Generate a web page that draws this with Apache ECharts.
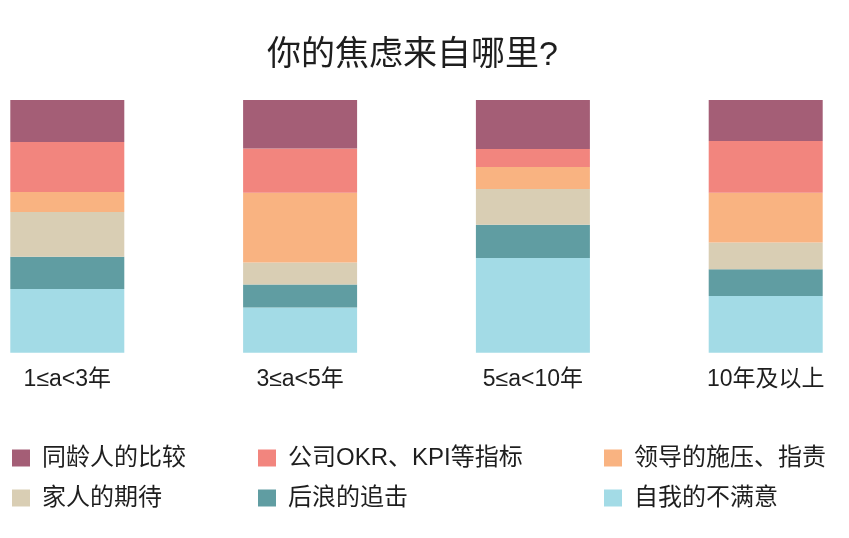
<!DOCTYPE html>
<html>
<head>
<meta charset="utf-8">
<script src="https://cdn.jsdelivr.net/npm/echarts@6/dist/echarts.min.js"></script>
<style>html,body{margin:0;padding:0;background:#fff}#c{width:849px;height:538px}</style>
</head>
<body>
<div id="c"></div>
<script>
const categories = ['1≤a<3年', '3≤a<5年', '5≤a<10年', '10年及以上'];
const peerComparison = [16.6, 19.2, 19.4, 16.2];
const companyKPI = [19.8, 17.5, 7.1, 20.5];
const leaderPressure = [7.9, 27.6, 8.7, 19.7];
const familyExpect = [17.7, 8.7, 14.2, 10.6];
const juniorChase = [12.8, 9.1, 13.1, 10.6];
const selfDissatisfied = [25.2, 17.9, 37.5, 22.4];

const names = ['同龄人的比较', '公司OKR、KPI等指标', '领导的施压、指责', '家人的期待', '后浪的追击', '自我的不满意'];
const colors = {
  '同龄人的比较': '#a45e76',
  '公司OKR、KPI等指标': '#f2857e',
  '领导的施压、指责': '#f9b381',
  '家人的期待': '#d9ceb4',
  '后浪的追击': '#609da2',
  '自我的不满意': '#a3dbe6'
};
const seriesData = [
  ['自我的不满意', selfDissatisfied],
  ['后浪的追击', juniorChase],
  ['家人的期待', familyExpect],
  ['领导的施压、指责', leaderPressure],
  ['公司OKR、KPI等指标', companyKPI],
  ['同龄人的比较', peerComparison]
];
const font = '"Liberation Sans", "Noto Sans CJK SC", sans-serif';
const legendBase = {
  orient: 'vertical', top: 446, padding: 0, itemWidth: 18, itemHeight: 17, itemGap: 16,
  icon: 'rect',
  textStyle: { fontSize: 24, color: '#1e1e1e', fontFamily: font, padding: [0, 0, 0, 7] }
};
const chart = echarts.init(document.getElementById('c'));
chart.setOption({
  animation: false,
  color: seriesData.map(s => colors[s[0]]),
  title: {
    text: '你的焦虑来自哪里?', left: 262, top: 34,
    textStyle: { fontSize: 34, fontWeight: 'normal', color: '#1e1e1e', fontFamily: font }
  },
  legend: [
    Object.assign({}, legendBase, { left: 12, data: [names[0], names[3]] }),
    Object.assign({}, legendBase, { left: 258, data: [names[1], names[4]] }),
    Object.assign({}, legendBase, { left: 604, data: [names[2], names[5]] })
  ],
  grid: { left: 67.3, right: 83.3, top: 100, bottom: 185.3, containLabel: false },
  xAxis: {
    type: 'category', data: categories, boundaryGap: false,
    axisLine: { show: false }, axisTick: { show: false }, splitLine: { show: false },
    axisLabel: { margin: 15, fontSize: 23, color: '#1e1e1e', fontFamily: font }
  },
  yAxis: { type: 'value', min: 0, max: 100, show: false },
  series: seriesData.map(s => ({
    name: s[0], type: 'bar', stack: 'total', data: s[1], barWidth: 114,
    itemStyle: { color: colors[s[0]] }
  }))
});
</script>
</body>
</html>
